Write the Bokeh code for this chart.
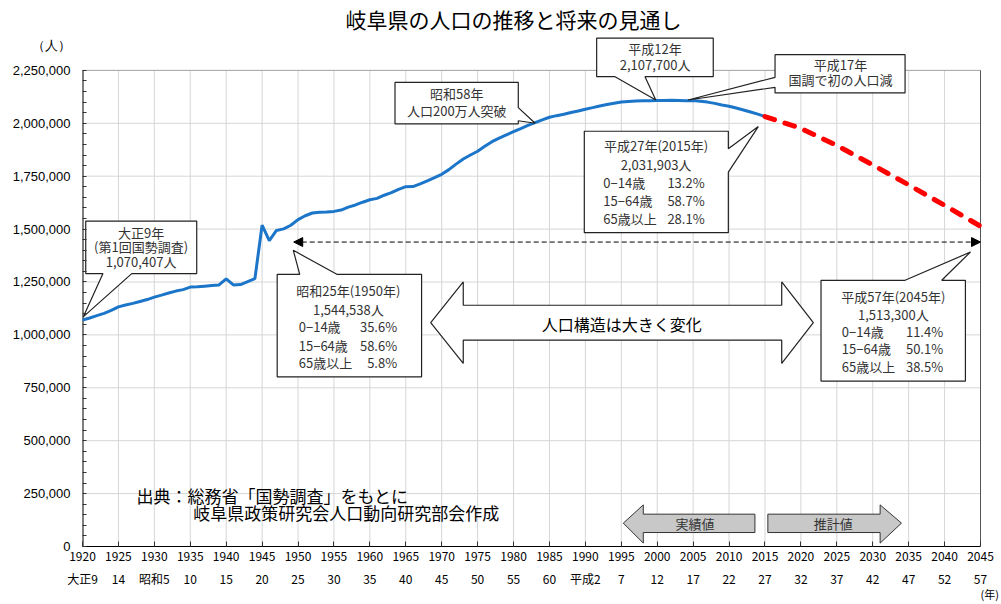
from bokeh.plotting import figure
from bokeh.models import (FixedTicker, LinearAxis, NumeralTickFormatter, Label,
                          Arrow, NormalHead, Range1d)
from bokeh.embed import file_html
from bokeh.resources import INLINE

# ---------------- data ----------------
years = list(range(1920, 2016))
population = [
    1070407, 1080000, 1091000, 1102000, 1116000, 1132557, 1141000, 1149000, 1158000, 1167000,
    1178405, 1188000, 1198000, 1207000, 1214000, 1225799, 1227000, 1230000, 1233000, 1236000,
    1265024, 1236000, 1238000, 1252000, 1266000, 1518649, 1445000, 1493644, 1501000, 1518000,
    1544538, 1563000, 1576000, 1579000, 1581000, 1583605, 1590000, 1604000, 1614000, 1627000,
    1638399, 1645000, 1660000, 1672000, 1688000, 1700365, 1701000, 1714000, 1728000, 1743000,
    1758954, 1781000, 1807000, 1831000, 1850000, 1867978, 1891000, 1913000, 1930000, 1945000,
    1960107, 1975000, 1990000, 2003000, 2016000, 2028536, 2036000, 2043000, 2051000, 2058000,
    2066569, 2074000, 2082000, 2089000, 2095000, 2100315, 2103000, 2105000, 2106000, 2107000,
    2107700, 2108000, 2109000, 2108000, 2107000, 2107226, 2104000, 2100000, 2094000, 2086000,
    2080773, 2072000, 2063000, 2053000, 2043000, 2031903,
]
proj_years = [2015, 2020, 2025, 2030, 2035, 2040, 2045]
proj_population = [2031903, 1976000, 1895000, 1803000, 1709000, 1612000, 1513300]

tick_years = list(range(1920, 2046, 5))
era_labels = ["大正9", "14", "昭和5", "10", "15", "20", "25", "30", "35", "40", "45", "50",
              "55", "60", "平成2", "7", "12", "17", "22", "27", "32", "37", "42", "47", "52", "57"]
y_ticks = list(range(0, 2250001, 250000))
y_minor = list(range(0, 2250001, 50000))

X0, X1 = 1920, 2045
Y0, Y1 = 0, 2250000

# ---------------- layout ----------------
W, H = 1001, 604
LEFT, BOTTOM = 82, 57
FRAME_W, FRAME_H = W - LEFT, H - BOTTOM
DATA_W, DATA_H = 898, 477              # pixel size of the data area inside the frame
X_END = X0 + (X1 - X0) * FRAME_W / DATA_W
Y_END = Y1 * FRAME_H / DATA_H
UNIT_Y = Y1 + 116500                   # position of the "(人)" unit label on the y axis
UNIT_X = 2047.0                        # position of the "(年)" unit label on the x axis

JP = "Noto Sans CJK JP"
NARROW = "'Liberation Sans Narrow', 'Noto Sans CJK JP'"

p = figure(width=W, height=H, x_range=Range1d(X0, X_END), y_range=Range1d(Y0, Y_END),
           output_backend="svg", toolbar_location=None,
           min_border_left=LEFT, min_border_right=0, min_border_top=0, min_border_bottom=BOTTOM)
p.outline_line_color = None
p.background_fill_color = "white"
p.grid.visible = False

# x axis (years)
xa = p.xaxis[0]
xa.ticker = FixedTicker(ticks=tick_years)
xa.bounds = (X0, X1)
xa.major_label_overrides = {y: str(y) for y in tick_years}
xa.major_label_text_font = NARROW
xa.major_label_text_font_size = "12px"
xa.major_label_text_color = "black"
xa.major_tick_in = 5
xa.major_tick_out = 0
xa.major_tick_line_color = "#333333"
xa.minor_tick_line_color = None
xa.major_label_standoff = 5
xa.axis_label_standoff = 0
xa.axis_line_color = "black"

# era row
era_axis = LinearAxis(ticker=FixedTicker(ticks=tick_years),
                      major_label_overrides=dict(zip(tick_years, era_labels)))
era_axis.axis_line_color = None
era_axis.major_tick_line_color = None
era_axis.minor_tick_line_color = None
era_axis.major_tick_in = 0
era_axis.major_tick_out = 0
era_axis.major_label_text_font = NARROW
era_axis.major_label_text_font_size = "12px"
era_axis.major_label_text_color = "black"
era_axis.major_label_standoff = 6
era_axis.axis_label_standoff = 0
p.add_layout(era_axis, "below")

# "(年)" unit row
unit_axis = LinearAxis(ticker=FixedTicker(ticks=[UNIT_X]),
                       major_label_overrides={UNIT_X: "(年)"})
unit_axis.axis_line_color = None
unit_axis.major_tick_line_color = None
unit_axis.minor_tick_line_color = None
unit_axis.major_tick_in = 0
unit_axis.major_tick_out = 0
unit_axis.major_label_text_font = NARROW
unit_axis.major_label_text_font_size = "11px"
unit_axis.major_label_text_color = "black"
unit_axis.major_label_standoff = -4
unit_axis.axis_label_standoff = 0
p.add_layout(unit_axis, "below")

# y axis
ya = p.yaxis[0]
ya.ticker = FixedTicker(ticks=y_ticks + [UNIT_Y], minor_ticks=y_minor)
ya.bounds = (Y0, UNIT_Y)
ya.formatter = NumeralTickFormatter(format="0,0")
ya.major_label_overrides = {UNIT_Y: "（人）"}
ya.major_label_text_font = "Liberation Sans"
ya.major_label_text_font_size = "13px"
ya.major_label_text_color = "black"
ya.major_tick_line_color = None
ya.major_tick_in = 0
ya.major_tick_out = 0
ya.minor_tick_in = 4
ya.minor_tick_out = 0
ya.minor_tick_line_color = "#333333"
ya.major_label_standoff = 12
ya.axis_line_color = None

# grid lines and frame border of the data area
p.segment(x0=tick_years[1:-1], y0=[Y0] * (len(tick_years) - 2),
          x1=tick_years[1:-1], y1=[Y1] * (len(tick_years) - 2),
          line_color="#d6d6d6", line_width=1)
p.segment(x0=[X0] * (len(y_ticks) - 2), y0=y_ticks[1:-1],
          x1=[X1] * (len(y_ticks) - 2), y1=y_ticks[1:-1],
          line_color="#d6d6d6", line_width=1)
p.segment(x0=[X0], y0=[Y1], x1=[X1], y1=[Y1], line_color="#a0a0a0", line_width=1)
p.segment(x0=[X1], y0=[Y0], x1=[X1], y1=[Y1], line_color="#555555", line_width=1)
p.segment(x0=[X0], y0=[Y0], x1=[X0], y1=[Y1], line_color="black", line_width=2)

# data lines
p.line(years, population, line_color="#1b75c9", line_width=3)
p.line(proj_years, proj_population, line_color="#ff0000", line_width=5,
       line_dash="10 11", line_cap="round")


def lab(x, y, text, size="13px", align="center", font=JP, weight="normal", color="#333333"):
    p.add_layout(Label(x=x, y=y, text=text, text_font=font, text_font_size=size,
                       text_align=align, text_baseline="middle", text_color=color,
                       text_font_style=weight))


def callout(x0, x1, y0, y1, side, a, b, tip):
    tl, tr, br, bl = (x0, y1), (x1, y1), (x1, y0), (x0, y0)
    if side == "top":
        pts = [tl, (a, y1), tip, (b, y1), tr, br, bl]
    elif side == "right":
        pts = [tl, tr, (x1, a), tip, (x1, b), br, bl]
    elif side == "bottom":
        pts = [tl, tr, br, (b, y0), tip, (a, y0), bl]
    else:
        pts = [tl, tr, br, bl, (x0, b), tip, (x0, a)]
    p.patch([q[0] for q in pts], [q[1] for q in pts], fill_color="white",
            line_color="#222222", line_width=1.2)


# dashed double arrow (1950 -> 2045)
p.add_layout(Arrow(start=NormalHead(size=9, fill_color="black", line_color="black"),
                   end=NormalHead(size=9, fill_color="black", line_color="black"),
                   x_start=1949.4, y_start=1438700, x_end=2045, y_end=1438700,
                   line_color="black", line_width=1, line_dash="5 3"))

# callout: 大正9年
callout(1920.45, 1935.9, 1289600, 1537800, "bottom", 1922.85, 1926.85, (1920.1, 1085000))
lab(1928.15, 1484400, "大正9年")
lab(1928.15, 1418400, "(第1回国勢調査)")
lab(1928.15, 1347600, "1,070,407人")

# callout: 昭和58年
callout(1963.5, 1980.66, 1997200, 2193400, "right", 2074000, 2012000, (1983.0, 2000000))
lab(1972.1, 2138700, "昭和58年")
lab(1972.1, 2060000, "人口200万人突破")

# callout: 平成12年
callout(1991.57, 2007.8, 2220300, 2402800, "bottom", 1994.13, 1998.3, (1999.8, 2110000))
lab(1999.7, 2352400, "平成12年")
lab(1999.7, 2276900, "2,107,700人")

# callout: 平成17年
callout(2016.4, 2034.5, 2143400, 2324100, "left", 2217000, 2169800, (2004.3, 2110000))
lab(2025.5, 2276900, "平成17年")
lab(2025.5, 2206100, "国調で初の人口減")

# callout: 平成27年
callout(1989.85, 2009.9, 1483000, 1962300, "right", 1879300, 1768900, (2014.07, 1984500))
lab(1999.83, 1894800, "平成27年(2015年)")
lab(1999.83, 1805200, "2,031,903人")
for yy, l1, l2 in [(1720300, "0−14歳", "13.2%"), (1635400, "15−64歳", "58.7%"),
                   (1550500, "65歳以上", "28.1%")]:
    lab(1992.5, yy, l1, align="left")
    lab(2006.6, yy, l2, align="right")

# callout: 昭和25年
callout(1947.1, 1967.2, 801900, 1286300, "top", 1950.24, 1955.4, (1949.34, 1399600))
lab(1957.0, 1210800, "昭和25年(1950年)")
lab(1957.0, 1119800, "1,544,538人")
for yy, l1, l2 in [(1037700, "0−14歳", "35.6%"), (951400, "15−64歳", "58.6%"),
                   (867900, "65歳以上", "5.8%")]:
    lab(1950.1, yy, l1, align="left")
    lab(1963.8, yy, l2, align="right")

# callout: 平成57年
callout(2022.8, 2042.9, 781600, 1258000, "top", 2034.5, 2039.6, (2043.6, 1391500))
lab(2032.86, 1182600, "平成57年(2045年)")
lab(2032.86, 1097700, "1,513,300人")
for yy, l1, l2 in [(1014200, "0−14歳", "11.4%"), (935900, "15−64歳", "50.1%"),
                   (849100, "65歳以上", "38.5%")]:
    lab(2025.7, yy, l1, align="left")
    lab(2039.8, yy, l2, align="right")

# big outline double arrow
bx = [1968.47, 1973.0, 1973.0, 2017.33, 2017.33, 2021.73, 2017.33, 2017.33, 1973.0, 1973.0]
by = [1058500, 1250000, 1140100, 1140100, 1250000, 1058500, 865100, 975000, 975000, 865100]
p.patch(bx, by, fill_color="white", line_color="#222222", line_width=1.2)
lab(1995.05, 1053800, "人口構造は大きく変化", size="16px", color="black")

# gray arrows: 実績値 / 推計値
gx1 = [1995.28, 1998.06, 1998.06, 2013.6, 2013.6, 1998.06, 1998.06]
gy1 = [110400, 196700, 152800, 152800, 66000, 66000, 16000]
p.patch(gx1, gy1, fill_color="#c8c8c8", line_color="#333333", line_width=1)
lab(2005.26, 110400, "実績値", size="13px")
gx2 = [2015.4, 2031.03, 2031.03, 2034.0, 2031.03, 2031.03, 2015.4]
gy2 = [152800, 152800, 196700, 110400, 16000, 66000, 66000]
p.patch(gx2, gy2, fill_color="#c8c8c8", line_color="#333333", line_width=1)
lab(2024.5, 110400, "推計値", size="13px")

# source text
lab(1927.5, 240000, "出典：総務省「国勢調査」をもとに", size="17px", align="left", color="black")
lab(1935.4, 160000, "岐阜県政策研究会人口動向研究部会作成", size="17px", align="left", color="black")

# title
lab(1980.0, 2490600, "岐阜県の人口の推移と将来の見通し", size="21px", color="black")

open("out.html", "w").write(file_html(p, INLINE))
